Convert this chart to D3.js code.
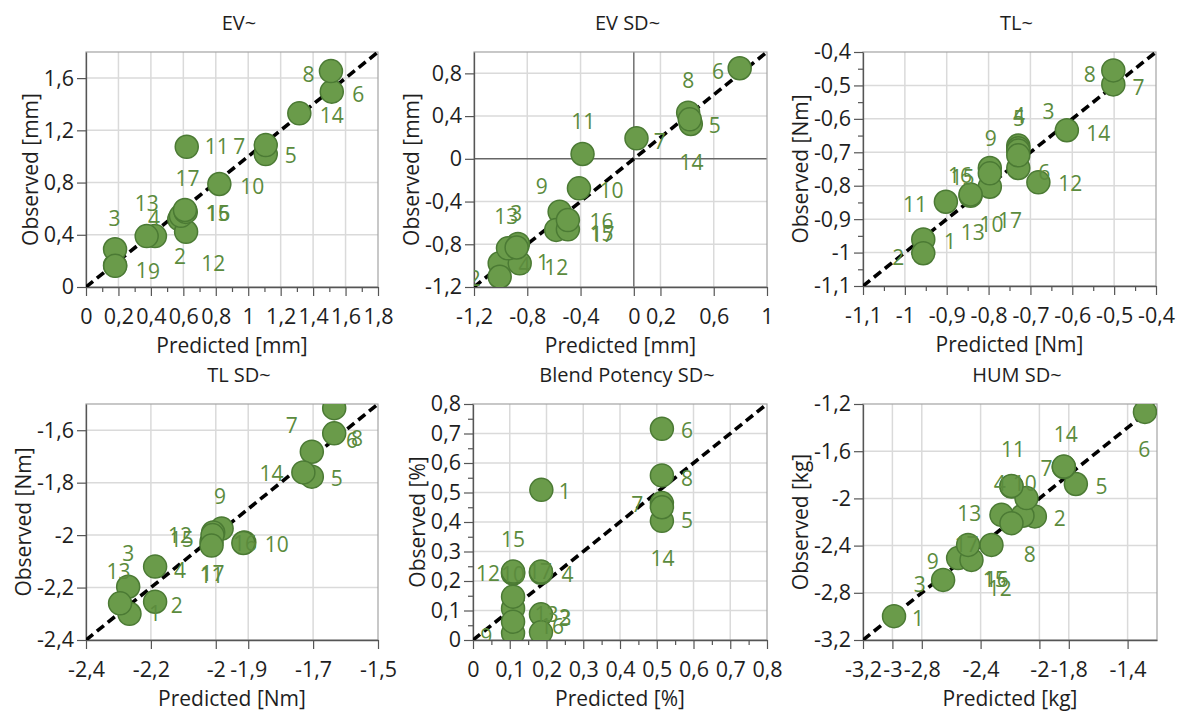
<!DOCTYPE html>
<html>
<head>
<meta charset="utf-8">
<script src="https://cdn.jsdelivr.net/npm/d3@7"></script>
<style>
  body { margin: 0; background: #fff; }
  svg { display: block; }
</style>
</head>
<body>
<svg id="chart" width="1177" height="711"></svg>
<script>
// ---------------- DATA ----------------
const pointIds = [1, 2, 3, 4, 5, 6, 7, 8, 9, 10, 11, 12, 13, 14, 15, 16, 17];

// EV~
const evPredicted = [0.179, 0.575, 0.179, 0.425, 1.108, 1.515, 1.108, 1.51, 0.18, 0.822, 0.621, 0.617, 0.374, 1.315, 0.585, 0.615, 0.61];
const evObserved  = [0.165, 0.52, 0.289, 0.39, 1.018, 1.496, 1.087, 1.654, 0.162, 0.789, 1.074, 0.423, 0.39, 1.33, 0.545, 0.575, 0.59];
const evLabelX    = [0.343, 0.58, 0.175, 0.419, 1.262, 1.679, 0.945, 1.371, 0.419, 1.025, 0.806, 0.785, 0.374, 1.515, 0.81, 0.816, 0.625];
const evLabelY    = [0.13, 0.232, 0.526, 0.526, 1.011, 1.478, 1.074, 1.631, 0.117, 0.773, 1.074, 0.181, 0.641, 1.317, 0.564, 0.564, 0.832];
const evXTicks = [0, 0.2, 0.4, 0.6, 0.8, 1, 1.2, 1.4, 1.6, 1.8];
const evXMinor = [0.1, 0.3, 0.5, 0.7, 0.9, 1.1, 1.3, 1.5, 1.7];
const evYTicks = [0, 0.4, 0.8, 1.2, 1.6];

// EV SD~
const evsdPredicted = [-1.007, -1.007, -0.87, -0.857, 0.428, 0.795, 0.02, 0.408, -0.557, -0.412, -0.385, -0.583, -0.945, 0.42, -0.495, -0.495, -0.88];
const evsdObserved  = [-0.978, -1.104, -0.797, -0.978, 0.326, 0.848, 0.192, 0.432, -0.495, -0.276, 0.045, -0.666, -0.838, 0.37, -0.66, -0.573, -0.83];
const evsdLabelX    = [-0.682, -1.195, -0.883, -0.82, 0.608, 0.633, 0.195, 0.408, -0.692, -0.167, -0.38, -0.583, -0.958, 0.433, -0.242, -0.242, -0.236];
const evsdLabelY    = [-0.967, -1.118, -0.51, -0.994, 0.317, 0.816, 0.16, 0.738, -0.261, -0.292, 0.348, -1.015, -0.542, -0.036, -0.697, -0.589, -0.705];
const evsdXTicks = [-1.2, -0.8, -0.4, 0, 0.2, 0.6, 1];
const evsdYTicks = [-1.2, -0.8, -0.4, 0, 0.4, 0.8];

// TL~
const tlPredicted = [-0.956, -0.956, -0.729, -0.729, -0.729, -0.729, -0.502, -0.502, -0.797, -0.797, -0.902, -0.681, -0.843, -0.613, -0.843, -0.797, -0.729];
const tlObserved  = [-0.961, -1.002, -0.68, -0.688, -0.695, -0.747, -0.497, -0.455, -0.747, -0.803, -0.848, -0.79, -0.83, -0.634, -0.826, -0.763, -0.709];
const tlLabelX    = [-0.892, -1.016, -0.657, -0.727, -0.727, -0.667, -0.442, -0.558, -0.795, -0.793, -0.976, -0.605, -0.838, -0.538, -0.862, -0.868, -0.749];
const tlLabelY    = [-0.968, -1.014, -0.579, -0.59, -0.598, -0.759, -0.507, -0.467, -0.659, -0.915, -0.855, -0.793, -0.94, -0.644, -0.775, -0.768, -0.903];
const tlTicks = [-1.1, -1, -0.9, -0.8, -0.7, -0.6, -0.5, -0.4];
const tlMinor = [-1.05, -0.95, -0.85, -0.75, -0.65, -0.55, -0.45];

// TL SD~
const tlsdPredicted = [-2.266, -2.187, -2.27, -2.187, -1.704, -1.635, -1.704, -1.635, -1.982, -1.912, -2.013, -2.008, -2.295, -1.73, -2.01, -1.915, -2.013];
const tlsdObserved  = [-2.3, -2.254, -2.197, -2.12, -1.777, -1.612, -1.682, -1.516, -1.975, -2.028, -2.025, -1.99, -2.26, -1.761, -2.0, -2.03, -2.04];
const tlsdLabelX    = [-2.187, -2.12, -2.27, -2.11, -1.627, -1.58, -1.766, -1.565, -1.987, -1.812, -2.013, -2.11, -2.3, -1.828, -2.105, -1.91, -2.01];
const tlsdLabelY    = [-2.3, -2.27, -2.069, -2.133, -1.783, -1.64, -1.58, -1.632, -1.853, -2.035, -2.155, -2.0, -2.14, -1.764, -2.015, -2.031, -2.148];
const tlsdXTicks = [-2.4, -2.2, -2, -1.9, -1.7, -1.5];
const tlsdYTicks = [-2.4, -2.2, -2, -1.8, -1.6];

// Blend Potency SD~
const bpPredicted = [0.186, 0.109, 0.185, 0.185, 0.514, 0.514, 0.514, 0.514, 0.109, 0.109, 0.109, 0.109, 0.109, 0.514, 0.109, 0.185, 0.185];
const bpObserved  = [0.509, 0.107, 0.087, 0.228, 0.404, 0.716, 0.464, 0.558, 0.023, 0.225, 0.147, 0.228, 0.062, 0.45, 0.232, 0.026, 0.232];
const bpLabelX    = [0.25, 0.25, 0.252, 0.257, 0.582, 0.582, 0.447, 0.582, 0.036, 0.109, null, 0.041, 0.2, 0.516, 0.109, 0.215, 0.182];
const bpLabelY    = [0.504, 0.078, 0.072, 0.223, 0.404, 0.71, 0.458, 0.547, 0.012, 0.221, null, 0.226, 0.085, 0.277, 0.34, 0.045, 0.232];
const bpTicks = [0, 0.1, 0.2, 0.3, 0.4, 0.5, 0.6, 0.7, 0.8];
const bpMinor = [0.05, 0.15, 0.25, 0.35, 0.45, 0.55, 0.65, 0.75];

// HUM SD~
const humPredicted = [-2.989, -2.031, -2.655, -2.19, -1.752, -1.282, -1.834, -2.115, -2.553, -2.088, -2.19, -2.326, -2.258, -1.834, -2.462, -2.19, -2.485];
const humObserved  = [-2.998, -2.153, -2.691, -1.899, -1.878, -1.267, -1.734, -2.147, -2.506, -1.997, -1.895, -2.394, -2.139, -1.73, -2.521, -2.21, -2.394];
const humLabelX    = [-2.825, -1.861, -2.814, -2.27, -1.577, -1.287, -1.952, -2.065, -2.725, -2.1, -2.179, -2.27, -2.478, -1.82, -2.303, -2.29, -2.496];
const humLabelY    = [-3.016, -2.167, -2.733, -1.87, -1.899, -1.587, -1.742, -2.478, -2.535, -1.87, -1.587, -2.76, -2.124, -1.46, -2.69, -2.69, -2.394];
const humXTicks = [-3.2, -3, -2.8, -2.4, -2, -1.8, -1.4];
const humYTicks = [-3.2, -2.8, -2.4, -2, -1.6, -1.2];

// ---------------- LAYOUT ----------------
const FONT = "'Open Sans', 'Noto Sans', sans-serif";
const COL = { fill: "#6a9b4a", stroke: "#4b7a34", label: "#5b8b3d", grid: "#dadada", frame: "#a3a3a3", axis: "#555555", text: "#1e1e1e", zero: "#666666" };

const panels = [
  { title: "EV~", xLabel: "Predicted [mm]", yLabel: "Observed [mm]",
    pred: evPredicted, obs: evObserved, lx: evLabelX, ly: evLabelY,
    xDomain: [0, 1.8], yDomain: [0, 1.8], xTicks: evXTicks, yTicks: evYTicks, xMinor: evXMinor, yMinor: [],
    zero: false, rect: { x: 86, y: 52, w: 292, h: 235 } },
  { title: "EV SD~", xLabel: "Predicted [mm]", yLabel: "Observed [mm]",
    pred: evsdPredicted, obs: evsdObserved, lx: evsdLabelX, ly: evsdLabelY,
    xDomain: [-1.2, 1], yDomain: [-1.2, 1], xTicks: evsdXTicks, yTicks: evsdYTicks, xMinor: [], yMinor: [],
    zero: true, rect: { x: 474, y: 52, w: 293, h: 235 } },
  { title: "TL~", xLabel: "Predicted [Nm]", yLabel: "Observed [Nm]",
    pred: tlPredicted, obs: tlObserved, lx: tlLabelX, ly: tlLabelY,
    xDomain: [-1.1, -0.4], yDomain: [-1.1, -0.4], xTicks: tlTicks, yTicks: tlTicks, xMinor: tlMinor, yMinor: tlMinor,
    zero: false, rect: { x: 863, y: 52, w: 293, h: 234 } },
  { title: "TL SD~", xLabel: "Predicted [Nm]", yLabel: "Observed [Nm]",
    pred: tlsdPredicted, obs: tlsdObserved, lx: tlsdLabelX, ly: tlsdLabelY,
    xDomain: [-2.4, -1.5], yDomain: [-2.4, -1.5], xTicks: tlsdXTicks, yTicks: tlsdYTicks, xMinor: [], yMinor: [],
    zero: false, rect: { x: 86, y: 404, w: 292, h: 236 } },
  { title: "Blend Potency SD~", xLabel: "Predicted [%]", yLabel: "Observed [%]",
    pred: bpPredicted, obs: bpObserved, lx: bpLabelX, ly: bpLabelY,
    xDomain: [0, 0.8], yDomain: [0, 0.8], xTicks: bpTicks, yTicks: bpTicks, xMinor: bpMinor, yMinor: bpMinor,
    zero: false, rect: { x: 473, y: 404, w: 294, h: 236 } },
  { title: "HUM SD~", xLabel: "Predicted [kg]", yLabel: "Observed [kg]",
    pred: humPredicted, obs: humObserved, lx: humLabelX, ly: humLabelY,
    xDomain: [-3.2, -1.2], yDomain: [-3.2, -1.2], xTicks: humXTicks, yTicks: humYTicks, xMinor: [], yMinor: [],
    zero: false, rect: { x: 863, y: 404, w: 294, h: 236 } }
];

const fmt = d3.formatLocale({ decimal: ",", thousands: ".", grouping: [3], currency: ["", ""], minus: "-" }).format("~g");

const svg = d3.select("#chart");
const defs = svg.append("defs");

function styleAxis(g) {
  g.attr("font-family", FONT).attr("font-size", 21.5);
  g.select(".domain").attr("stroke", COL.axis).attr("stroke-width", 1.3);
  g.selectAll(".tick line").attr("stroke", COL.axis).attr("stroke-width", 1.2);
  g.selectAll(".tick text").attr("fill", COL.text);
}

panels.forEach((p, i) => {
  const r = p.rect;
  const x = d3.scaleLinear().domain(p.xDomain).range([r.x, r.x + r.w]);
  const y = d3.scaleLinear().domain(p.yDomain).range([r.y + r.h, r.y]);
  const g = svg.append("g");

  const cid = "clip" + i;
  defs.append("clipPath").attr("id", cid).append("rect")
    .attr("x", r.x).attr("y", r.y).attr("width", r.w).attr("height", r.h);

  // gridlines
  const inX = p.xTicks.filter(v => v > p.xDomain[0] && v < p.xDomain[1] && !(p.zero && v === 0));
  const inY = p.yTicks.filter(v => v > p.yDomain[0] && v < p.yDomain[1] && !(p.zero && v === 0));
  g.append("g").selectAll("line").data(inX).join("line")
    .attr("x1", d => x(d)).attr("x2", d => x(d)).attr("y1", r.y).attr("y2", r.y + r.h)
    .attr("stroke", COL.grid).attr("stroke-width", 1.5);
  g.append("g").selectAll("line").data(inY).join("line")
    .attr("y1", d => y(d)).attr("y2", d => y(d)).attr("x1", r.x).attr("x2", r.x + r.w)
    .attr("stroke", COL.grid).attr("stroke-width", 1.5);
  if (p.zero) {
    g.append("line").attr("x1", x(0)).attr("x2", x(0)).attr("y1", r.y).attr("y2", r.y + r.h)
      .attr("stroke", COL.zero).attr("stroke-width", 1.4);
    g.append("line").attr("y1", y(0)).attr("y2", y(0)).attr("x1", r.x).attr("x2", r.x + r.w)
      .attr("stroke", COL.zero).attr("stroke-width", 1.4);
  }

  // frame
  g.append("rect").attr("x", r.x).attr("y", r.y).attr("width", r.w).attr("height", r.h)
    .attr("fill", "none").attr("stroke", COL.frame).attr("stroke-width", 1.2);

  // axes
  const gx = g.append("g").attr("transform", `translate(0,${r.y + r.h})`)
    .call(d3.axisBottom(x).tickValues(p.xTicks).tickFormat(fmt).tickSize(9).tickSizeOuter(0).tickPadding(13));
  styleAxis(gx);
  if (p.xMinor.length) {
    const gm = g.append("g").attr("transform", `translate(0,${r.y + r.h})`)
      .call(d3.axisBottom(x).tickValues(p.xMinor).tickFormat("").tickSize(5).tickSizeOuter(0));
    gm.select(".domain").remove();
    gm.selectAll(".tick line").attr("stroke", COL.axis).attr("stroke-width", 1.2);
  }
  const gy = g.append("g").attr("transform", `translate(${r.x},0)`)
    .call(d3.axisLeft(y).tickValues(p.yTicks).tickFormat(fmt).tickSize(9).tickSizeOuter(0).tickPadding(3));
  styleAxis(gy);
  if (p.yMinor.length) {
    const gm = g.append("g").attr("transform", `translate(${r.x},0)`)
      .call(d3.axisLeft(y).tickValues(p.yMinor).tickFormat("").tickSize(5).tickSizeOuter(0));
    gm.select(".domain").remove();
    gm.selectAll(".tick line").attr("stroke", COL.axis).attr("stroke-width", 1.2);
  }

  // plotted content (clipped)
  const plot = g.append("g").attr("clip-path", `url(#${cid})`);
  const lo = Math.max(p.xDomain[0], p.yDomain[0]);
  const hi = Math.min(p.xDomain[1], p.yDomain[1]);
  plot.append("line")
    .attr("x1", x(lo)).attr("y1", y(lo)).attr("x2", x(hi)).attr("y2", y(hi))
    .attr("stroke", "#000").attr("stroke-width", 3.6).attr("stroke-dasharray", "9,5");

  const pts = pointIds.map((id, k) => ({ id, px: p.pred[k], py: p.obs[k], lx: p.lx[k], ly: p.ly[k] }));
  plot.append("g").selectAll("circle").data(pts).join("circle")
    .attr("cx", d => x(d.px)).attr("cy", d => y(d.py)).attr("r", 11.5)
    .attr("fill", COL.fill).attr("stroke", COL.stroke).attr("stroke-width", 1.5);
  plot.append("g").selectAll("text").data(pts.filter(d => d.lx !== null)).join("text")
    .attr("x", d => x(d.lx)).attr("y", d => y(d.ly)).attr("dy", "0.36em")
    .attr("text-anchor", "middle").attr("font-family", FONT).attr("font-size", 21)
    .attr("fill", COL.label).text(d => d.id);

  // titles and axis labels
  g.append("text").attr("x", r.x + r.w / 2 + 7).attr("y", r.y - 22)
    .attr("text-anchor", "middle").attr("font-family", FONT).attr("font-size", 20)
    .attr("fill", COL.text).text(p.title);
  g.append("text").attr("x", r.x + r.w / 2).attr("y", r.y + r.h + 66)
    .attr("text-anchor", "middle").attr("font-family", FONT).attr("font-size", 21)
    .attr("fill", COL.text).text(p.xLabel);
  const bb = gy.node().getBBox();
  const ylx = r.x + bb.x - 6;
  g.append("text").attr("transform", `translate(${ylx},${r.y + r.h / 2}) rotate(-90)`)
    .attr("text-anchor", "middle").attr("font-family", FONT).attr("font-size", 21)
    .attr("fill", COL.text).text(p.yLabel);
});
</script>
</body>
</html>
